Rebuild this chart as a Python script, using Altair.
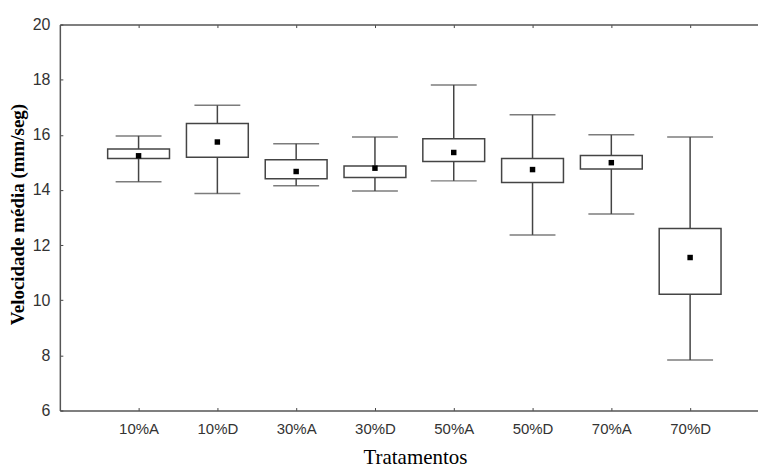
import altair as alt
import pandas as pd

categories = ["10%A", "10%D", "30%A", "30%D", "50%A", "50%D", "70%A", "70%D"]
whisker_low = [14.30, 13.87, 14.15, 13.96, 14.33, 12.37, 13.13, 7.83]
box_low = [15.14, 15.19, 14.41, 14.45, 15.03, 14.27, 14.76, 10.22]
box_high = [15.49, 16.41, 15.10, 14.87, 15.86, 15.14, 15.25, 12.60]
whisker_high = [15.96, 17.07, 15.68, 15.92, 17.81, 16.73, 16.00, 15.92]
means = [15.24, 15.74, 14.67, 14.79, 15.36, 14.74, 14.99, 11.55]
y_ticks = list(range(6, 21))

df = pd.DataFrame({
    "cat": categories,
    "lo": whisker_low,
    "q1": box_low,
    "q3": box_high,
    "hi": whisker_high,
    "mean": means,
})

LINE = "#444444"
FRAME = "#555555"
xs = alt.Scale(type="point", domain=categories, padding=0.9304, align=0.537)
ys = alt.Scale(domain=[6, 20], nice=False, zero=False)

x_bottom = alt.X(
    "cat:N", scale=xs, sort=categories,
    axis=alt.Axis(
        orient="bottom",
        title="Tratamentos", titleFont="Liberation Serif", titleFontSize=21,
        titleFontWeight="normal", titleColor="black", titleX=356, titleY=53,
        titleAlign="center", titleBaseline="alphabetic",
        labelFont="Liberation Sans", labelFontSize=15, labelColor="#333333",
        labelAngle=0, labelPadding=14, tickSize={"expr": "-3"}, tickColor=LINE,
        domain=True, domainColor=FRAME, domainWidth=1.5, grid=False,
    ),
)
x_plain = alt.X("cat:N", scale=xs, sort=categories, axis=None)
y_axis = alt.Axis(
    values=y_ticks, labelExpr="datum.value % 2 == 0 ? datum.label : ''",
    labelOverlap=False, labelFont="Liberation Sans", labelFontSize=16,
    labelColor="#333333", labelPadding=13, tickSize={"expr": "-3"}, tickColor=LINE,
    domain=True, domainColor=FRAME, domainWidth=1.5, grid=False,
    title="Velocidade média (mm/seg)", titleFont="Liberation Serif",
    titleFontSize=19, titleFontWeight="bold", titleColor="black",
    titleX=-36, titleY=190, titleAngle=-90, titleAlign="center",
    titleBaseline="alphabetic",
)

base = alt.Chart(df)

whisk = base.mark_rule(color=LINE, strokeWidth=1.5).encode(
    x=x_bottom, y=alt.Y("lo:Q", scale=ys, axis=y_axis), y2="hi:Q"
)
cap_lo = base.mark_tick(size=46, thickness=1.5, color=LINE).encode(
    x=x_plain, y=alt.Y("lo:Q", scale=ys)
)
cap_hi = base.mark_tick(size=46, thickness=1.5, color=LINE).encode(
    x=x_plain, y=alt.Y("hi:Q", scale=ys)
)
box = base.mark_bar(size=62, fill="white", stroke=LINE, strokeWidth=1.5).encode(
    x=x_plain, y=alt.Y("q1:Q", scale=ys), y2="q3:Q"
)
mean_pt = base.mark_square(size=30, color="black", opacity=1).encode(
    x=x_plain, y=alt.Y("mean:Q", scale=ys)
)
top_ticks = base.mark_point(opacity=0).encode(
    x=alt.X("cat:N", scale=xs, sort=categories,
            axis=alt.Axis(orient="top", labels=False, title="",
                          tickSize={"expr": "-3"}, tickColor=LINE,
                          domain=True, domainColor=FRAME, domainWidth=1.5,
                          grid=False)),
    y=alt.Y("mean:Q", scale=ys),
)

chart = (
    alt.layer(whisk, cap_lo, cap_hi, box, mean_pt, top_ticks)
    .resolve_axis(x="independent")
    .properties(
        width=700, height=387,
        padding={"left": 60, "top": 24, "right": 0, "bottom": 57},
        autosize="none", background="white",
    )
    .configure_view(strokeWidth=0)
)

chart.save("out.html", embed_options={"renderer": "svg", "actions": False})
